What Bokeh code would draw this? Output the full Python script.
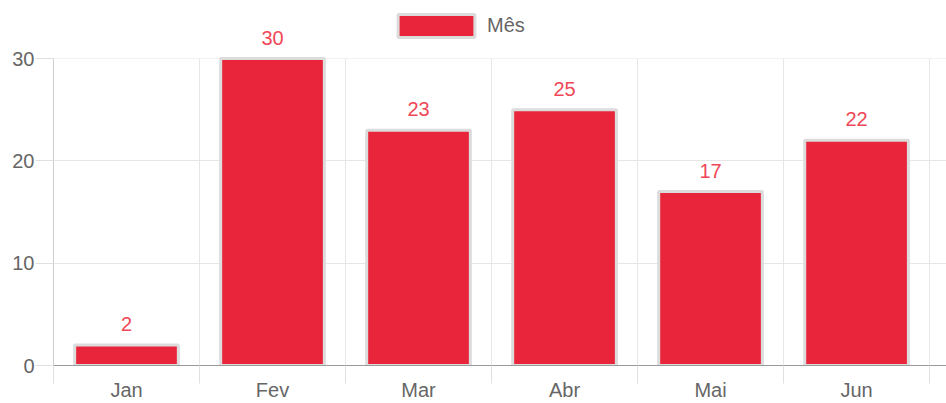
from bokeh.plotting import figure
from bokeh.models import (ColumnDataSource, FixedTicker, LabelSet, Range1d,
                          Legend, LegendItem, BoxAnnotation)
from bokeh.core.properties import value
from bokeh.embed import file_html
from bokeh.resources import INLINE

months = ["Jan", "Fev", "Mar", "Abr", "Mai", "Jun"]
values = [2, 30, 23, 25, 17, 22]
series_name = "Mês"
y_ticks = [0, 10, 20, 30]
y_max = 30

FONT = "Liberation Sans"
BAR = "#E9253B"
LBL = "#EF4757"
GRAY = "#666666"

xs = [i + 0.5 for i in range(len(months))]
src = ColumnDataSource(dict(x=xs, top=values, lbl=[str(v) for v in values]))

# frame spans full height; axis max (30) sits 58px below the top
FRAME_H = 365
p = figure(width=946, height=403, output_backend="svg", toolbar_location=None,
           x_range=Range1d(0, 6.116), y_range=Range1d(0, y_max * FRAME_H / (FRAME_H - 58)),
           min_border_left=53, min_border_right=0, min_border_top=0,
           min_border_bottom=38)
p.outline_line_color = None
p.background_fill_color = "white"

# mask grid above the axis maximum
mask = BoxAnnotation(bottom=y_max, fill_color="white", fill_alpha=1,
                     line_alpha=0, level="underlay")
p.add_layout(mask)

r = p.vbar(x="x", top="top", width=0.71, bottom=0, source=src,
           fill_color=BAR, line_color="#dcdcdc", line_width=3)

labels = LabelSet(x="x", y="top", text="lbl", source=src, text_align="center",
                  text_baseline="alphabetic", y_offset=14,
                  text_color=LBL, text_font=value(FONT), text_font_size="20px")
p.add_layout(labels)

# x axis
p.xaxis.ticker = FixedTicker(ticks=xs, minor_ticks=list(range(7)))
p.xaxis.major_label_overrides = {x: m for x, m in zip(xs, months)}
p.xaxis.major_tick_out = 0
p.xaxis.major_tick_in = 0
p.xaxis.minor_tick_out = 18
p.xaxis.minor_tick_in = 0
p.xaxis.minor_tick_line_color = "#e0e0e0"
p.xaxis.axis_line_color = "#9a9a9a"
p.xaxis.major_label_standoff = -5
p.xaxis.major_label_text_font = FONT
p.xaxis.major_label_text_font_size = "20px"
p.xaxis.major_label_text_color = GRAY
p.xgrid.ticker = FixedTicker(ticks=list(range(7)))
p.xgrid.grid_line_color = "#e6e6e6"

# y axis
p.yaxis.ticker = FixedTicker(ticks=y_ticks)
p.yaxis.bounds = (0, y_max)
p.yaxis.major_tick_out = 18
p.yaxis.major_tick_in = 0
p.yaxis.minor_tick_line_color = None
p.yaxis.major_tick_line_color = "#e0e0e0"
p.yaxis.axis_line_color = "#cfcfcf"
p.yaxis.major_label_standoff = 1
p.yaxis.major_label_text_font = FONT
p.yaxis.major_label_text_font_size = "20px"
p.yaxis.major_label_text_color = GRAY
p.ygrid.grid_line_color = "#e6e6e6"

legend = Legend(items=[LegendItem(label=series_name, renderers=[r])],
                location=(335, 325), orientation="horizontal",
                padding=0, margin=0, spacing=0, border_line_alpha=0,
                background_fill_alpha=0, glyph_width=96, glyph_height=29,
                label_standoff=3, label_text_font=FONT,
                label_text_font_size="20px", label_text_color=GRAY,
                label_height=29)
p.add_layout(legend, "center")

open("out.html", "w").write(file_html(p, INLINE))
